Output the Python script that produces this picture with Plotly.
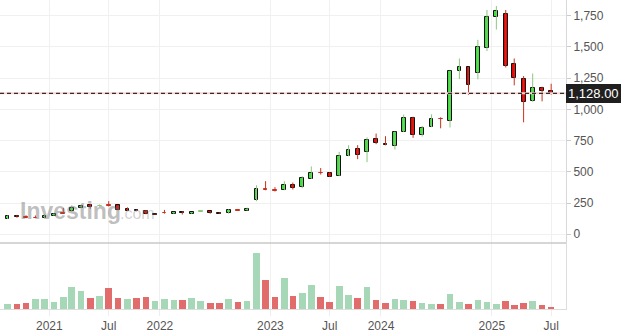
import plotly.graph_objects as go
import pandas as pd

# ---------------- data ----------------
months = pd.date_range("2020-08-01", periods=60, freq="MS")

opens = [125, 150, 135, 134, 131, 150, 170, 185, 214, 232,
         224, 234, 232, 199, 196, 185, 166, 171, 165, 182,
         166, 182, 183, 174, 167, 193, 190, 275, 360, 354,
         358, 396, 375, 445, 494, 494, 470, 628, 686, 660,
         763, 726, 710, 822, 930, 792, 860, 925, 908, 1307,
         1338, 1292, 1490, 1738, 1760, 1364, 1242, 1068, 1170, 1150]
highs = [150, 155, 152, 150, 160, 168, 210, 232, 238, 243,
         238, 265, 233, 215, 198, 186, 166, 195, 180, 184,
         176, 190, 185, 176, 200, 197, 213, 392, 425, 377,
         425, 414, 465, 543, 530, 497, 660, 713, 713, 776,
         806, 785, 822, 958, 941, 867, 960, 936, 1310, 1407,
         1340, 1556, 1795, 1827, 1795, 1407, 1266, 1287, 1181, 1205]
lows = [122, 132, 128, 128, 126, 147, 163, 182, 210, 205,
        220, 222, 192, 186, 184, 160, 155, 165, 162, 158,
        163, 180, 164, 164, 164, 186, 188, 265, 352, 342,
        352, 358, 368, 442, 478, 458, 465, 625, 601, 577,
        721, 712, 678, 818, 772, 782, 857, 848, 854, 1242,
        1115, 1240, 1466, 1638, 1335, 1192, 896, 1060, 1064, 1117]
closes = [146, 138, 131, 130, 149, 165, 166, 210, 230, 222,
          228, 230, 195, 189, 186, 163, 156, 167, 175, 168,
          176, 186, 167, 164, 196, 189, 206, 364, 356, 350,
          396, 374, 452, 494, 490, 462, 627, 676, 636, 756,
          733, 716, 820, 930, 792, 850, 922, 921, 1305, 1335,
          1195, 1500, 1737, 1785, 1347, 1251, 1059, 1170, 1148, 1128]

# monthly volume (relative units)
volumes = [5.0, 5.0, 6.0, 9.7, 9.7, 7.0, 11.7, 21.7, 18.0, 10.7,
           12.7, 20.7, 10.7, 9.7, 10.7, 11.7, 7.7, 9.7, 8.7, 8.7,
           10.7, 7.7, 5.7, 5.7, 9.7, 7.0, 7.7, 56.0, 28.7, 11.7,
           30.7, 12.7, 16.0, 23.7, 11.7, 7.0, 22.7, 13.7, 10.7, 21.7,
           8.7, 6.0, 9.7, 8.7, 7.7, 6.0, 4.7, 4.7, 15.0, 7.0,
           4.7, 8.7, 7.0, 4.7, 7.7, 3.7, 6.0, 7.7, 3.7, 2.0]
vol_up = [1, 0, 0, 1, 1, 1, 1, 1, 1, 0,
          1, 0, 0, 1, 0, 0, 1, 1, 1, 0,
          1, 1, 0, 0, 1, 0, 1, 1, 0, 0,
          1, 0, 1, 1, 0, 0, 1, 1, 0, 1,
          0, 0, 1, 1, 0, 1, 1, 0, 1, 1,
          0, 1, 1, 1, 0, 0, 0, 1, 0, 0]

y_ticks = [0, 250, 500, 750, 1000, 1250, 1500, 1750]
x_tick_dates = ["2020-12-17", "2021-07-01", "2021-12-17", "2022-12-17",
                "2023-07-01", "2023-12-17", "2024-12-17", "2025-07-01"]
x_tick_labels = ["2021", "Jul", "2022", "2023", "Jul", "2024", "2025", "Jul"]
last_price = 1128.00

# ---------------- styles ----------------
UP_FILL, DN_FILL = "#33e233", "#f00000"
UP_WICK, DN_WICK = "#8cc77f", "#c8321e"
VOL_UP, VOL_DN = "#a6d7b7", "#e26b6b"
GRID = "#f0f0f0"
FONT = "Liberation Sans, Arial, sans-serif"
DAY = 86400000

fig = go.Figure()

# wicks
for up_flag, col in ((True, UP_WICK), (False, DN_WICK)):
    xs, ys = [], []
    for d, o, h, l, c in zip(months, opens, highs, lows, closes):
        if (c >= o) == up_flag:
            xs += [d, d, None]
            ys += [l, h, None]
    fig.add_trace(go.Scatter(x=xs, y=ys, mode="lines", line=dict(color=col, width=1),
                             hoverinfo="skip", showlegend=False, xaxis="x", yaxis="y"))

# bodies
fills, borders = [], []
for o, c in zip(opens, closes):
    up = c >= o
    if abs(c - o) <= 5:
        w = UP_WICK if up else DN_WICK
        fills.append(w)
        borders.append(w)
    else:
        fills.append(UP_FILL if up else DN_FILL)
        borders.append("#111111")
fig.add_trace(go.Bar(
    x=months, y=[abs(c - o) for o, c in zip(opens, closes)],
    base=[min(o, c) for o, c in zip(opens, closes)],
    width=12.5 * DAY, marker=dict(color=fills, line=dict(color=borders, width=1)),
    showlegend=False, xaxis="x", yaxis="y"))

# volume
fig.add_trace(go.Bar(
    x=months, y=volumes, width=22 * DAY,
    marker=dict(color=[VOL_UP if u else VOL_DN for u in vol_up], line=dict(width=0)),
    showlegend=False, xaxis="x", yaxis="y2"))

split = 66 / 309

fig.update_layout(
    width=622, height=333,
    margin=dict(l=0, r=56, t=0, b=24),
    paper_bgcolor="white", plot_bgcolor="white",
    barmode="overlay", bargap=0,
    font=dict(family=FONT, size=12, color="#555555"),
    xaxis=dict(
        type="date", range=["2020-07-07", "2025-08-19"], anchor="y2",
        tickmode="array", tickvals=x_tick_dates, ticktext=x_tick_labels,
        showgrid=True, gridcolor=GRID, gridwidth=1,
        ticks="outside", ticklen=6, tickcolor="#eeeeee",
        showline=True, linecolor="#dddddd", linewidth=1,
        tickfont=dict(size=12, color="#555555"),
        zeroline=False, fixedrange=True,
    ),
    yaxis=dict(
        domain=[split, 1], range=[-70, 1875], side="right",
        tickmode="array", tickvals=y_ticks, tickformat=",",
        showgrid=True, gridcolor=GRID, gridwidth=1,
        ticks="outside", ticklen=4, tickcolor="#cccccc",
        showline=True, linecolor="#d8d8d8", linewidth=1,
        zeroline=False, tickfont=dict(size=12, color="#555555"),
    ),
    yaxis2=dict(
        domain=[0, split], range=[0, 66], side="right",
        showgrid=False, showticklabels=False, ticks="",
        showline=True, linecolor="#dddddd", linewidth=1, zeroline=False,
    ),
    shapes=[
        dict(type="line", xref="paper", yref="paper", x0=0, x1=1, y0=split, y1=split,
             line=dict(color="#c8c8c8", width=1.5)),
        dict(type="line", xref="paper", yref="y", x0=0, x1=1, y0=last_price, y1=last_price,
             line=dict(color="#fcd6d6", width=2)),
        dict(type="line", xref="paper", yref="y", x0=0, x1=1, y0=last_price, y1=last_price,
             line=dict(color="#2e2e2e", width=1.4, dash="4px,3px")),
    ],
    annotations=[
        dict(xref="paper", yref="y", x=1, y=last_price, xanchor="left", yanchor="middle",
             text=f"{last_price:,.2f}", showarrow=False, bgcolor="#1f1f1f",
             bordercolor="#1f1f1f", borderwidth=1, borderpad=1,
             font=dict(family=FONT, size=13, color="white")),
        dict(xref="paper", yref="paper", x=18 / 566, y=(309 - 211) / 309,
             xanchor="left", yanchor="middle", text="<b>Investing</b>", showarrow=False,
             font=dict(family=FONT, size=23, color="rgba(110,110,110,0.45)")),
        dict(xref="paper", yref="paper", x=118 / 566, y=(309 - 213) / 309,
             xanchor="left", yanchor="middle", text=".com", showarrow=False,
             font=dict(family=FONT, size=16, color="rgba(140,140,140,0.4)")),
    ],
)

fig.write_html("out.html")
